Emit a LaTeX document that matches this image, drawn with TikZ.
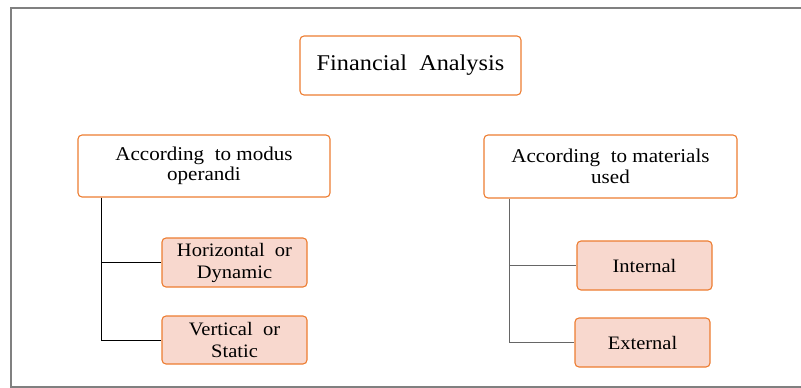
\documentclass[tikz,border=0pt]{standalone}
\usepackage{fontspec}
\setmainfont[FakeStretch=1.08]{Liberation Serif}
\definecolor{bordure}{RGB}{237,125,49}
\definecolor{remplissage}{RGB}{248,216,206}

\begin{document}
\begin{tikzpicture}[x=1pt,y=-1pt]

\tikzset{boite/.style={draw=bordure,line width=1.1pt,rounded corners=4pt,align=center,inner sep=0pt,
		font=\fontsize{19.5}{20.5}\selectfont}, %boite blanche
	feuille/.style={boite,fill=remplissage,minimum width=145pt,minimum height=49pt,
		font=\fontsize{19}{22}\selectfont}, %boite coloree
	trait/.style={line width=1pt}}

\useasboundingbox (0,0) rectangle (801,388);

%cadre
\draw [gray,line width=1.3pt] (801,8) -- (11,8) -- (11,387) -- (801,387);

%titre
\node[boite,minimum width=221pt,minimum height=59pt,font=\fontsize{22.5}{24}\selectfont] (fin) at (410.5,65.5) {Financial\ \ Analysis};

%----------branche gauche------------
\node[boite,minimum width=252pt,minimum height=62pt] (modus) at (204,166) {According\ \ to modus\\operandi};
\node[feuille] (horiz) at (234.5,262.5) {Horizontal\ \ or\\Dynamic};
\node[feuille,minimum height=48pt] (vert) at (234.5,340) {Vertical\ \ or\\Static};

\coordinate (gA) at ([xshift=24pt]modus.south west);
\draw [trait] (gA) |- (horiz.west);
\draw [trait] (gA) |- (vert.west);

%----------branche droite------------
\node[boite,minimum width=253pt,minimum height=63pt] (mater) at (610.5,166.5) {According\ \ to materials\\used};
\node[feuille,minimum width=135pt] (interne) at (644.5,265.5) {Internal};
\node[feuille,minimum width=135pt] (externe) at (642.5,342.5) {External};

\coordinate (gB) at ([xshift=26pt]mater.south west);
\draw [trait,black!60] (gB) |- (interne.west);
\draw [trait,black!60] (gB) |- (externe.west);

\end{tikzpicture}
\end{document}
